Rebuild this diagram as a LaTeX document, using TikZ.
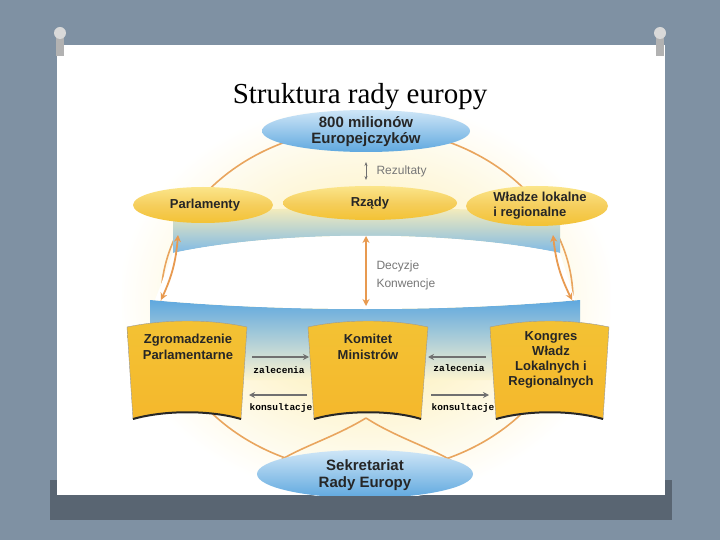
\documentclass[tikz,border=0pt]{standalone}
\usepackage{fontspec}
\setmainfont{Liberation Serif}
\newfontfamily\lsans{Liberation Sans}
\newfontfamily\lmono{Liberation Mono}
\usetikzlibrary{arrows.meta,shapes.geometric}
\definecolor{slidebg}{HTML}{7F91A3}
\definecolor{ringor}{HTML}{E9A55E}
\definecolor{arrowor}{HTML}{E89A50}
\definecolor{goldy}{HTML}{F3C234}
\definecolor{goldl}{HTML}{FBE58A}
\definecolor{bluee}{HTML}{5FA8DF}
\definecolor{bluel}{HTML}{CFE6F7}
\definecolor{grayt}{HTML}{777777}
\definecolor{grayar}{HTML}{707070}
\tikzset{
  lbl/.style={font=\lsans\bfseries\fontsize{13}{15}\selectfont, text=black!85, align=center},
  glbl/.style={font=\lsans\fontsize{12}{18}\selectfont, text=grayt, align=left, anchor=west},
  mlbl/.style={font=\lmono\bfseries\fontsize{9.5}{10}\selectfont, text=black},
  yell/.style={ellipse, inner sep=0pt, top color=goldl, bottom color=goldy, middle color=goldy!80!white},
  blue/.style={ellipse, inner sep=0pt, top color=bluel, bottom color=bluee},
  book/.style={draw=black!40, line width=0.4pt, top color=goldy, bottom color=goldy!85!orange},
  oar/.style={{Stealth[length=7pt,width=7pt]}-{Stealth[length=7pt,width=7pt]}, arrowor, line width=1.8pt},
  gar/.style={-{Stealth[length=6pt,width=6pt]}, grayar, line width=1.3pt},
  ring/.style={ringor, line width=1.6pt}
}
\begin{document}
\begin{tikzpicture}[x=1pt,y=-1pt]
\useasboundingbox (0,0) rectangle (720,540);
\fill[slidebg] (0,0) rectangle (720,540);
\fill[slidebg!70!black] (50,480) rectangle (672,520);
\fill[white] (57,45) rectangle (665,495);
% pins
\foreach \px in {60,660}{
  \fill[gray!60] (\px-4,34) rectangle (\px+4,56);
  \fill[gray!30] (\px,33) circle (6);
}
\node[font=\fontsize{29}{32}\selectfont] (title) at (360,97) {Struktura rady europy};
% picture area
\begin{scope}
\clip (122,113) rectangle (610,495);
\fill[white] (122,113) rectangle (610,495);
\shade[inner color=goldl!80!white, outer color=white] (367,300) ellipse (250 and 200);
% ring
\draw[ring] (367,300) ellipse (206 and 172);
% top band
\path[top color=goldl!60!white, bottom color=bluee!80] (173,215) .. controls (300,205) and (430,205) .. (560,215) -- (560,253) .. controls (450,230) and (280,230) .. (173,253) -- cycle;
% bottom band
\path[top color=bluee, bottom color=goldl!40!white] (150,300) .. controls (280,312) and (450,312) .. (580,300) -- (580,380) -- (150,380) -- cycle;
\fill[white] (173,253) .. controls (280,230) and (450,230) .. (560,253) -- (575,300) .. controls (450,312) and (280,312) .. (155,300) -- cycle;
% bottom arcs
\draw[ring] (366,418) .. controls (330,440) and (290,450) .. (270,468);
\draw[ring] (366,418) .. controls (400,440) and (440,450) .. (462,468);
\node[blue, minimum width=216pt, minimum height=48pt] (sek) at (365,474) {};
\end{scope}
\node[lbl, font=\lsans\bfseries\fontsize{15}{17}\selectfont] (sektxt) at (365,475) {Sekretariat\\Rady Europy};
% top ellipse
\node[blue, minimum width=208pt, minimum height=42pt] (top) at (366,131) {};
\node[lbl, font=\lsans\bfseries\fontsize{15}{16}\selectfont] (toptxt) at (366,132) {800 milionów\\Europejczyków};
% rezultaty
\coordinate (r1) at (366,162); \coordinate (r2) at (366,180);
\draw[{Stealth[length=4pt]}-{Stealth[length=4pt]}, grayar, line width=0.8pt] (r1) -- (r2);
\node[glbl] (rez) at (373,171) {Rezultaty};
% second row ellipses
\node[yell, minimum width=140pt, minimum height=36pt] (parl) at (203,205) {};
\node[lbl] (parltxt) at (205,205) {Parlamenty};
\node[yell, minimum width=174pt, minimum height=34pt] (rzady) at (370,203) {};
\node[lbl] (rztxt) at (370,203) {Rządy};
\node[yell, minimum width=142pt, minimum height=40pt] (wladze) at (537,206) {};
\node[lbl, align=left] (wltxt) at (540,206) {Władze lokalne\\ i regionalne};
% orange arrows
\coordinate (la) at (178,235); \coordinate (lb) at (161,300);
\coordinate (ra) at (553,235); \coordinate (rb) at (572,300);
\coordinate (ca) at (366,236); \coordinate (cb) at (366,306);
\draw[oar] (la) to[bend left=10] (lb);
\draw[oar] (ra) to[bend right=10] (rb);
\draw[oar] (ca) -- (cb);
\node[glbl, align=left] (dec) at (373,275) {Decyzje\\Konwencje};
% books
\path[book] (127,327) .. controls (165,319) and (210,319) .. (247,327) -- (241,419) .. controls (210,410) and (165,410) .. (133,419) -- cycle;
\draw[black!85, line width=2pt] (133,419) .. controls (165,410) and (210,410) .. (241,419);
\path[book] (308,327) .. controls (345,319) and (392,319) .. (428,327) -- (421,419) .. controls (392,410) and (345,410) .. (314,419) -- cycle;
\draw[black!85, line width=2pt] (314,419) .. controls (345,410) and (392,410) .. (421,419);
\path[book] (490,327) .. controls (528,319) and (572,319) .. (609,327) -- (603,419) .. controls (572,410) and (528,410) .. (496,419) -- cycle;
\draw[black!85, line width=2pt] (496,419) .. controls (528,410) and (572,410) .. (603,419);
\node[lbl] (zg) at (188,347) {Zgromadzenie\\[1pt]Parlamentarne};
\node[lbl] (km) at (368,347) {Komitet\\[1pt]Ministrów};
\node[lbl, font=\lsans\bfseries\fontsize{13}{15}\selectfont] (kg) at (551,360) {Kongres\\Władz\\Lokalnych i\\Regionalnych};
% gray arrows
\coordinate (g1a) at (252,357); \coordinate (g1b) at (309,357);
\coordinate (g2a) at (307,395); \coordinate (g2b) at (249,395);
\coordinate (g3a) at (486,357); \coordinate (g3b) at (428,357);
\coordinate (g4a) at (431,395); \coordinate (g4b) at (489,395);
\draw[gar] (g1a) -- (g1b);
\draw[gar] (g2a) -- (g2b);
\draw[gar] (g3a) -- (g3b);
\draw[gar] (g4a) -- (g4b);
\node[mlbl] (z1) at (279,370) {zalecenia};
\node[mlbl] (k1) at (281,408) {konsultacje};
\node[mlbl] (z2) at (459,368) {zalecenia};
\node[mlbl] (k2) at (463,408) {konsultacje};
\end{tikzpicture}
\end{document}
